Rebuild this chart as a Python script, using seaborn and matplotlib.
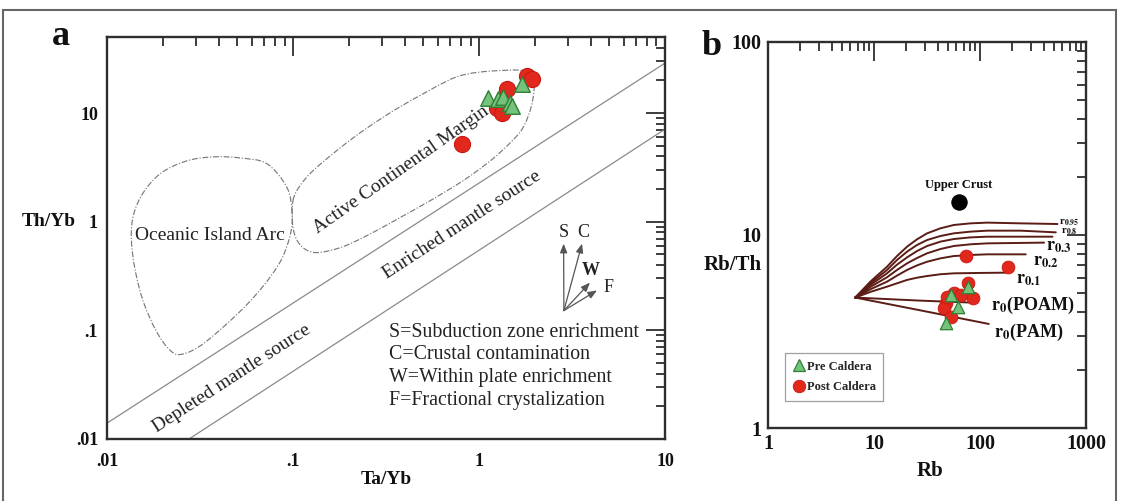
import numpy as np
import pandas as pd
import matplotlib
matplotlib.use("Agg")
import matplotlib.pyplot as plt
from matplotlib.lines import Line2D
from matplotlib.path import Path
from matplotlib.patches import PathPatch, Rectangle
from matplotlib.ticker import FixedLocator, LogLocator, NullFormatter
import seaborn as sns

# ---------------- Panel a: Th/Yb vs Ta/Yb ----------------
pre_ta_yb = [1.12, 1.26, 1.34, 1.47, 1.50, 1.70]
pre_th_yb = [13.7, 13.5, 14.0, 12.4, 11.5, 18.5]
post_ta_yb = [0.81, 1.25, 1.33, 1.41, 1.81, 1.92]
post_th_yb = [5.2, 11.1, 10.0, 16.6, 21.8, 20.5]

# mantle array boundaries
mantle_upper_ta = [0.01, 10.0]
mantle_upper_th = [0.014, 28.8]
mantle_lower_ta = [0.0276, 10.0]
mantle_lower_th = [0.01, 7.1]

# tectonic field outlines
oia_ta = [0.0988, 0.0929, 0.0725, 0.0519, 0.0376, 0.0269, 0.0193, 0.0152, 0.0136,
          0.0138, 0.0154, 0.0183, 0.0218, 0.0253, 0.0337, 0.0573, 0.0830, 0.0964]
oia_th = [1.21, 2.05, 3.41, 3.86, 3.95, 3.63, 2.76, 1.70, 0.96,
          0.468, 0.201, 0.100, 0.0656, 0.0603, 0.0776, 0.177, 0.394, 0.745]
acm_ta = [0.100, 0.109, 0.128, 0.179, 0.250, 0.376, 0.673, 0.861, 1.15, 1.66, 1.93, 1.98,
          1.90, 1.72, 1.47, 1.15, 0.820, 0.546, 0.376, 0.250, 0.179, 0.131, 0.109, 0.100]
acm_th = [1.56, 2.14, 2.94, 4.77, 7.28, 11.4, 19.7, 22.8, 24.3, 24.8, 22.8, 16.9,
          11.1, 7.28, 5.31, 3.63, 2.38, 1.56, 1.09, 0.745, 0.576, 0.520, 0.615, 0.881]

# enrichment vectors
vec_names = ["S", "C", "W", "F"]
vec_origin_ta, vec_origin_th = 2.86, 0.152
vec_tip_ta = [2.85, 3.58, 3.95, 4.31]
vec_tip_th = [0.628, 0.628, 0.275, 0.233]

vector_notes = ["S=Subduction zone enrichment",
                "C=Crustal contamination",
                "W=Within plate enrichment",
                "F=Fractional crystalization"]

# ---------------- Panel b: Rb/Th vs Rb ----------------
pre_rb = [52.7, 76.3, 61.4, 48.3]
pre_rb_th = [4.89, 5.38, 4.24, 3.50]
post_rb = [73.1, 182, 76.3, 56.3, 65.5, 85.1, 47.3, 45.3, 52.7, 48.8]
post_rb_th = [7.79, 6.83, 5.64, 5.00, 4.87, 4.72, 4.44, 4.19, 3.76, 4.77]

upper_crust_rb, upper_crust_rb_th = 62.7, 14.8

# AFC mixing curves (Rb, Rb/Th)
curve_names = ["r0.95", "r0.8", "r0.5", "r0.3", "r0.2", "r0.1", "r0(POAM)", "r0(PAM)"]
curve_rb = [
    [6.65, 9.23, 13.27, 16.49, 20.51, 25.49, 31.70, 42.39, 56.67, 81.5, 117.2, 242.2, 538.2],
    [6.65, 9.23, 13.27, 16.49, 20.51, 25.49, 31.70, 42.39, 56.67, 81.5, 117.2, 242.2, 519.1],
    [6.65, 9.23, 13.27, 16.49, 20.51, 25.49, 31.70, 42.39, 56.67, 81.5, 117.2, 482.8],
    [6.65, 9.23, 13.27, 16.49, 20.51, 25.49, 31.70, 42.39, 56.67, 81.5, 117.2, 402.6],
    [6.65, 9.23, 13.27, 16.49, 20.51, 25.49, 31.70, 42.39, 56.67, 81.5, 117.2, 270.1],
    [6.65, 9.23, 13.27, 16.49, 20.51, 25.49, 31.70, 42.39, 56.67, 101.3, 174.7],
    [6.65, 27.4, 87.6],
    [6.65, 27.4, 121.0],
]
curve_rb_th = [
    [4.74, 5.73, 6.85, 7.78, 8.70, 9.50, 10.20, 10.83, 11.27, 11.49, 11.59, 11.49, 11.40],
    [4.74, 5.62, 6.59, 7.42, 8.20, 8.88, 9.42, 9.88, 10.20, 10.41, 10.53, 10.53, 10.32],
    [4.74, 5.51, 6.33, 7.02, 7.66, 8.26, 8.77, 9.24, 9.53, 9.72, 9.80, 9.80],
    [4.74, 5.38, 6.04, 6.59, 7.13, 7.60, 8.04, 8.46, 8.77, 8.95, 9.05, 9.13],
    [4.74, 5.23, 5.73, 6.16, 6.59, 6.96, 7.27, 7.57, 7.78, 7.88, 7.94, 7.94],
    [4.74, 5.07, 5.40, 5.62, 5.85, 6.01, 6.13, 6.26, 6.33, 6.36, 6.38],
    [4.74, 4.57, 4.46],
    [4.74, 4.07, 3.46],
]
curve_labels = {
    "r0.95": (r"$\mathbf{r}_{\mathbf{0.95}}$", 554, 11.7, 8),
    "r0.8": (r"$\mathbf{r}_{\mathbf{0.8}}$", 579, 10.4, 8),
    "r0.3": (r"$\mathbf{r}_{\mathbf{0.3}}$", 418, 8.67, 13),
    "r0.2": (r"$\mathbf{r}_{\mathbf{0.2}}$", 315, 7.25, 13),
    "r0.1": (r"$\mathbf{r}_{\mathbf{0.1}}$", 217, 5.85, 13),
    "r0(POAM)": (r"$\mathbf{r}_{\mathbf{0}}$(POAM)", 126, 4.34, 13),
    "r0(PAM)": (r"$\mathbf{r}_{\mathbf{0}}$(PAM)", 134.5, 3.14, 13),
}

# ---------------- style ----------------
sns.set_theme(style="white")
plt.rcParams["font.family"] = ["Liberation Serif", "DejaVu Serif"]
plt.rcParams["mathtext.fontset"] = "stix"

RED, RED_EDGE = "#e2271d", "#c81a12"
GREEN, GREEN_EDGE = "#74c27b", "#2f7f35"
CURVE = "#5a1c14"
GRAY = "#8a8a8a"
INK = "#2e2e2e"


def closed_outline(xs, ys):
    """Smooth closed Bezier outline through the given vertices (log space)."""
    p = np.column_stack([np.log10(xs), np.log10(ys)])
    n = len(p)
    verts, codes = [p[0]], [Path.MOVETO]
    for i in range(n):
        p0, p1, p2, p3 = p[i - 1], p[i], p[(i + 1) % n], p[(i + 2) % n]
        verts += [p1 + (p2 - p0) / 6, p2 - (p3 - p1) / 6, p2]
        codes += [Path.CURVE4] * 3
    return Path(10 ** np.array(verts), codes)


def style_axes(ax, xmaj, xlab, ymaj, ylab, fs, xpad, ypad):
    ax.set_xscale("log")
    ax.set_yscale("log")
    ax.xaxis.set_major_locator(FixedLocator(xmaj))
    ax.yaxis.set_major_locator(FixedLocator(ymaj))
    for axis in (ax.xaxis, ax.yaxis):
        axis.set_minor_locator(LogLocator(base=10, subs=np.arange(2, 10), numticks=100))
        axis.set_minor_formatter(NullFormatter())
    ax.set_xticklabels(xlab, fontsize=fs, fontweight="bold", color="#111")
    ax.set_yticklabels(ylab, fontsize=fs, fontweight="bold", color="#111")
    ax.tick_params(which="both", direction="in", top=True, right=True,
                   color=INK, width=1.3)
    ax.tick_params(which="major", length=13.5)
    ax.tick_params(which="minor", length=6.5)
    ax.tick_params(axis="x", which="major", pad=xpad)
    ax.tick_params(axis="y", which="major", pad=ypad)
    for sp in ax.spines.values():
        sp.set_color(INK)
        sp.set_linewidth(1.7)
        sp.set_visible(True)
    ax.set_xlabel("")
    ax.set_ylabel("")
    ax.grid(False)


fig = plt.figure(figsize=(11.22, 5.01), dpi=100)
ax_a = fig.add_axes([0.0954, 0.1238, 0.4973, 0.8022])
ax_b = fig.add_axes([0.6845, 0.1457, 0.2834, 0.7705])

# ---------------- draw panel a ----------------
ax_a.set_xscale("log")
ax_a.set_yscale("log")

mantle = pd.DataFrame({
    "Ta/Yb": mantle_upper_ta + mantle_lower_ta,
    "Th/Yb": mantle_upper_th + mantle_lower_th,
    "line": ["upper"] * 2 + ["lower"] * 2,
})
sns.lineplot(data=mantle, x="Ta/Yb", y="Th/Yb", units="line", estimator=None,
             color=GRAY, lw=0.9, sort=False, legend=False, ax=ax_a)

for xs, ys in ((oia_ta, oia_th), (acm_ta, acm_th)):
    ax_a.add_patch(PathPatch(closed_outline(xs, ys), fill=False, ec="#7a7a7a",
                             lw=0.85, ls=(0, (5, 1.5, 1, 1.5))))

post_a = pd.DataFrame({"Ta/Yb": post_ta_yb, "Th/Yb": post_th_yb})
pre_a = pd.DataFrame({"Ta/Yb": pre_ta_yb, "Th/Yb": pre_th_yb})
sns.scatterplot(data=post_a, x="Ta/Yb", y="Th/Yb", marker="o", s=135, color=RED,
                edgecolor=RED_EDGE, linewidth=0.8, zorder=5, legend=False, ax=ax_a)
sns.scatterplot(data=pre_a, x="Ta/Yb", y="Th/Yb", marker="^", s=125, color=GREEN,
                edgecolor=GREEN_EDGE, linewidth=1.0, zorder=6, legend=False, ax=ax_a)

ax_a.set_xlim(0.01, 10)
ax_a.set_ylim(0.01, 50)
style_axes(ax_a, [0.01, 0.1, 1, 10], [".01", ".1", "1", "10"],
           [0.01, 0.1, 1, 10], [".01", ".1", "1", "10"], 13, 10, 6.5)

txt = dict(fontsize=14, color="#222", ha="center", va="center", rotation_mode="anchor")
ax_a.text(0.0358, 0.745, "Oceanic Island Arc", **txt)
ax_a.text(0.381, 3.0, "Active Continental Margin", rotation=35, **txt)
ax_a.text(0.811, 0.937, "Enriched mantle source", rotation=33, **txt)
ax_a.text(0.047, 0.0363, "Depleted mantle source", rotation=33, **txt)

for name, tx, ty in zip(vec_names, vec_tip_ta, vec_tip_th):
    ax_a.annotate("", xy=(tx, ty), xytext=(vec_origin_ta, vec_origin_th),
                  arrowprops=dict(arrowstyle="-|>,head_length=0.45,head_width=0.18",
                                  color="#555", lw=0.9, shrinkA=0, shrinkB=0))
vec_text = dict(fontsize=13, color="#222", ha="center", va="center")
ax_a.text(2.87, 0.79, "S", **vec_text)
ax_a.text(3.65, 0.79, "C", **vec_text)
ax_a.text(4.0, 0.355, "W", fontweight="bold", **vec_text)
ax_a.text(4.94, 0.248, "F", **vec_text)

for i, note in enumerate(vector_notes):
    ax_a.text(0.505, 0.266 - i * 0.0565, note, transform=ax_a.transAxes,
              fontsize=14.3, color="#222", ha="left", va="center")

ax_a.text(0.5, -0.1, "Ta/Yb", transform=ax_a.transAxes, fontsize=14,
          fontweight="bold", ha="center", va="center", color="#111")
ax_a.text(-0.056, 0.54, "Th/Yb", transform=ax_a.transAxes, fontsize=14,
          fontweight="bold", ha="right", va="center", color="#111")

# ---------------- draw panel b ----------------
ax_b.set_xscale("log")
ax_b.set_yscale("log")

curves = pd.DataFrame({
    "Rb": [v for xs in curve_rb for v in xs],
    "Rb/Th": [v for ys in curve_rb_th for v in ys],
    "curve": [n for n, xs in zip(curve_names, curve_rb) for _ in xs],
})
sns.lineplot(data=curves, x="Rb", y="Rb/Th", units="curve", estimator=None,
             color=CURVE, lw=1.4, sort=False, legend=False, ax=ax_b)

for key, (label, lx, ly, fs) in curve_labels.items():
    ax_b.text(lx, ly, label, fontsize=fs, fontweight="bold", color="#111",
              ha="left", va="center")

post_b = pd.DataFrame({"Rb": post_rb, "Rb/Th": post_rb_th})
pre_b = pd.DataFrame({"Rb": pre_rb, "Rb/Th": pre_rb_th})
sns.scatterplot(data=post_b, x="Rb", y="Rb/Th", marker="o", s=85, color=RED,
                edgecolor=RED_EDGE, linewidth=0.6, zorder=5, legend=False, ax=ax_b)
sns.scatterplot(data=pre_b, x="Rb", y="Rb/Th", marker="^", s=80, color=GREEN,
                edgecolor=GREEN_EDGE, linewidth=0.9, zorder=6, legend=False, ax=ax_b)
sns.scatterplot(x=[upper_crust_rb], y=[upper_crust_rb_th], marker="o", s=120,
                color="black", edgecolor="black", zorder=6, legend=False, ax=ax_b)
ax_b.text(upper_crust_rb, 18.2, "Upper Crust", fontsize=9, fontweight="bold",
          ha="center", va="center", color="#111")

ax_b.set_xlim(1, 1000)
ax_b.set_ylim(1, 100)
style_axes(ax_b, [1, 10, 100, 1000], ["1", "10", "100", "1000"],
           [1, 10, 100], ["1", "10", "100"], 14.5, 4, 4.5)

handles = [
    Line2D([], [], ls="", marker="^", markersize=9, mfc=GREEN, mec=GREEN_EDGE, mew=0.9),
    Line2D([], [], ls="", marker="o", markersize=9, mfc=RED, mec=RED_EDGE, mew=0.6),
]
leg = ax_b.legend(handles, ["Pre Caldera", "Post Caldera"], loc="lower left",
                  bbox_to_anchor=(0.055, 0.07), frameon=True, fancybox=False,
                  edgecolor="#888", prop={"weight": "bold", "size": 9,
                                          "family": "Liberation Serif"},
                  handlelength=0.9, handletextpad=0.2, borderpad=0.6,
                  labelspacing=0.7, borderaxespad=0)
leg.get_frame().set_linewidth(0.9)

ax_b.text(0.509, -0.111, "Rb", transform=ax_b.transAxes, fontsize=15,
          fontweight="bold", ha="center", va="center", color="#111")
ax_b.text(-0.019, 0.422, "Rb/Th", transform=ax_b.transAxes, fontsize=15,
          fontweight="bold", ha="right", va="center", color="#111")

# panel letters
fig.text(61 / 1122, 1 - 45 / 501, "a", fontsize=26, fontweight="bold",
         ha="center", va="baseline", color="#111")
fig.text(712 / 1122, 1 - 55 / 501, "b", fontsize=26, fontweight="bold",
         ha="center", va="baseline", color="#111")

# outer frame
fig.add_artist(Rectangle((3 / 1122, -0.1), 1113 / 1122, 1.1 - 10 / 501,
                         transform=fig.transFigure, fill=False,
                         edgecolor="#666", lw=1.5))

fig.savefig("out.png", dpi=100)
